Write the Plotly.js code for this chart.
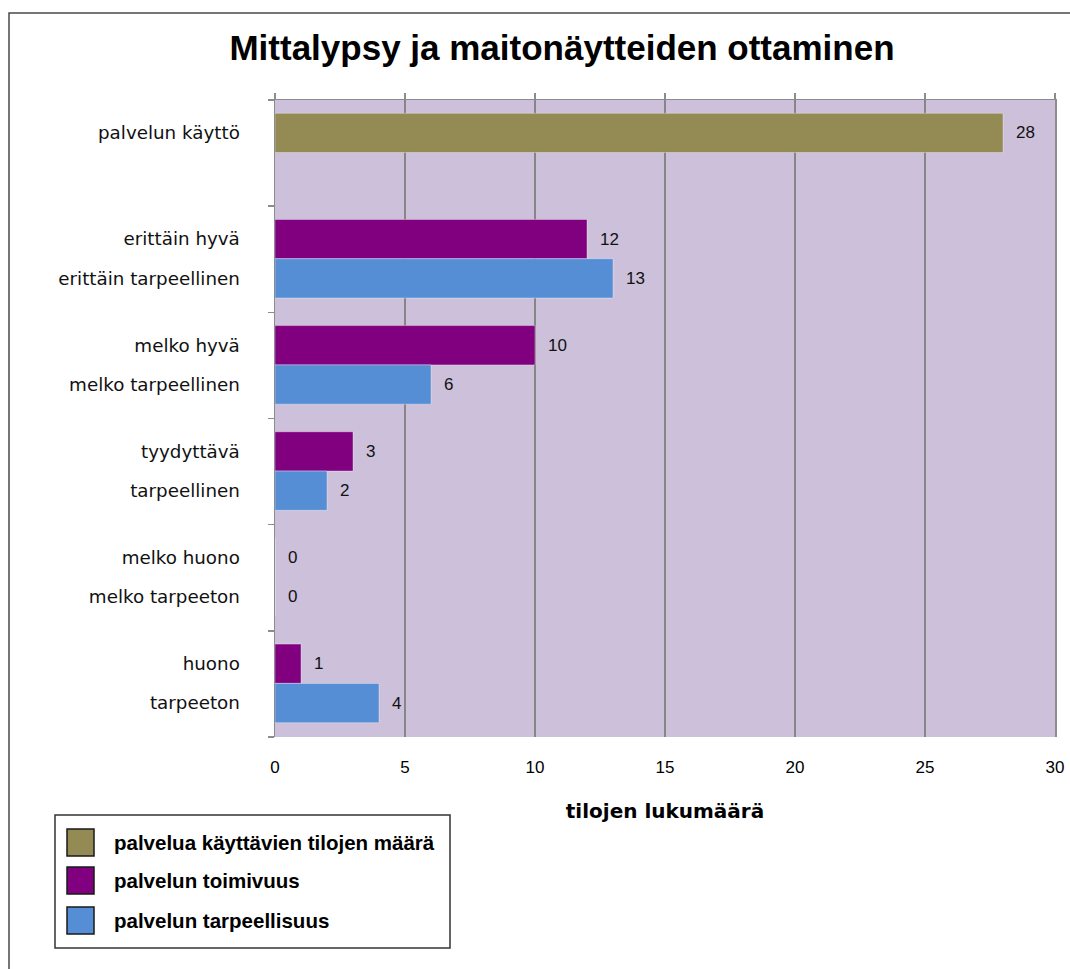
<!DOCTYPE html>
<html>
<head>
<meta charset="utf-8">
<script src="https://cdn.plot.ly/plotly-3.0.1.min.js"></script>
<style>html,body{margin:0;padding:0;background:#fff;}#chart{width:1070px;height:969px;}</style>
</head>
<body>
<div id="chart"></div>
<script>
// ---- data ----
const titleText = "Mittalypsy ja maitonäytteiden ottaminen";
const xAxisTitle = "tilojen lukumäärä";
const seriesNames = ["palvelua käyttävien tilojen määrä", "palvelun toimivuus", "palvelun tarpeellisuus"];
const usageLabels = ["palvelun käyttö"];
const usageValues = [28];
const functionLabels = ["erittäin hyvä", "melko hyvä", "tyydyttävä", "melko huono", "huono"];
const functionValues = [12, 10, 3, 0, 1];
const needLabels = ["erittäin tarpeellinen", "melko tarpeellinen", "tarpeellinen", "melko tarpeeton", "tarpeeton"];
const needValues = [13, 6, 2, 0, 4];
const xTicks = [0, 5, 10, 15, 20, 25, 30];

// ---- styling / layout ----
const colors = ["#948A54", "#800080", "#558ED5"];
const W = 1070, H = 969;
const M = {l: 275, r: 15, t: 100, b: 232};
const nGroups = 1 + functionLabels.length;
const off1 = 0.31, off2 = 0.68, bw = 0.37;

const usageY = usageLabels.map((_, i) => i + off1);
const funcY = functionLabels.map((_, i) => i + 1 + off1);
const needY = needLabels.map((_, i) => i + 1 + off2);

const baseFont = "Liberation Sans, Arial, sans-serif";
const labelFont = "DejaVu Sans, Verdana, sans-serif";

const traces = [
  {type: "bar", orientation: "h", name: seriesNames[0], x: usageValues, y: usageY, width: bw,
   marker: {color: colors[0], line: {color: "rgba(255,255,255,0.35)", width: 1}}, hoverinfo: "x+name"},
  {type: "bar", orientation: "h", name: seriesNames[1], x: functionValues, y: funcY, width: bw,
   marker: {color: colors[1], line: {color: "rgba(255,255,255,0.35)", width: 1}}, hoverinfo: "x+name"},
  {type: "bar", orientation: "h", name: seriesNames[2], x: needValues, y: needY, width: bw,
   marker: {color: colors[2], line: {color: "rgba(255,255,255,0.35)", width: 1}}, hoverinfo: "x+name"},
  {type: "scatter", x: [], y: [], xaxis: "x2", yaxis: "y2", showlegend: false, hoverinfo: "skip"}
];

const pw = W - M.l - M.r, ph = H - M.t - M.b;
const px = v => (v - M.l) / pw;
const py = v => (H - M.b - v) / ph;

const annotations = [];
const addVal = (xs, ys) => xs.forEach((v, i) => annotations.push({
  x: v, y: ys[i], xref: "x", yref: "y", text: String(v), showarrow: false,
  xanchor: "left", yanchor: "middle", xshift: 11,
  font: {family: baseFont, size: 17, color: "#111"}
}));
addVal(usageValues, usageY);
addVal(functionValues, funcY);
addVal(needValues, needY);

// custom legend
const shapes = [
  {type: "rect", xref: "paper", yref: "paper", x0: px(9), x1: px(1090), y0: py(13), y1: py(990),
   line: {color: "#4a4a4a", width: 1.5}, fillcolor: "rgba(0,0,0,0)", layer: "above"},
  {type: "rect", xref: "paper", yref: "paper", x0: px(55), x1: px(450), y0: py(815), y1: py(948),
   line: {color: "#333", width: 1.5}, fillcolor: "#fff", layer: "above"}
];
const legTop = [829, 867, 907];
seriesNames.forEach((n, i) => {
  shapes.push({type: "rect", xref: "paper", yref: "paper", x0: px(67), x1: px(94),
    y0: py(legTop[i]), y1: py(legTop[i] + 27), line: {color: "#1a1a1a", width: 1.5},
    fillcolor: colors[i], layer: "above"});
  annotations.push({xref: "paper", yref: "paper", x: px(112), y: py(legTop[i] + 13.5),
    xanchor: "left", yanchor: "middle", showarrow: false, text: "<b>" + n + "</b>",
    font: {family: baseFont, size: 20.5, color: "#000"}});
});

const layout = {
  width: W, height: H, margin: M,
  paper_bgcolor: "#fff", plot_bgcolor: "#CCC0DA",
  showlegend: false, bargap: 0,
  title: {text: "<b>" + titleText + "</b>", x: 562 / W, xanchor: "center", y: 1 - 48 / H, yanchor: "middle",
          font: {family: baseFont, size: 35, color: "#000"}},
  xaxis: {range: [0, 30], tickvals: xTicks, ticktext: xTicks.map(String), showgrid: true,
          gridcolor: "#868686", gridwidth: 1.5, zeroline: false, showline: false, ticks: "",
          ticklabelstandoff: 18, tickfont: {family: baseFont, size: 17, color: "#000"},
          title: {text: "<b>" + xAxisTitle + "</b>", standoff: 27, font: {family: labelFont, size: 20, color: "#000"}},
          fixedrange: true},
  xaxis2: {range: [0, 30], tickvals: xTicks, overlaying: "x", side: "top", anchor: "y", showgrid: false,
           zeroline: false, showline: true, linecolor: "#8c8c8c", linewidth: 1.5, ticks: "outside",
           ticklen: 6, tickcolor: "#8c8c8c", tickwidth: 1.5, showticklabels: false},
  yaxis: {range: [nGroups, 0], tickvals: usageY.concat(funcY, needY),
          ticktext: usageLabels.concat(functionLabels, needLabels), showgrid: false, zeroline: false,
          showline: true, mirror: true, linecolor: "#8c8c8c", linewidth: 1.5, ticks: "",
          ticklabelstandoff: 30, tickfont: {family: labelFont, size: 18.3, color: "#111"}},
  yaxis2: {range: [nGroups, 0], tickvals: Array.from({length: nGroups + 1}, (_, i) => i),
           overlaying: "y", side: "left", anchor: "x", showgrid: false, zeroline: false, showline: false,
           ticks: "outside", ticklen: 6, tickcolor: "#8c8c8c", tickwidth: 1.5, showticklabels: false},
  shapes: shapes, annotations: annotations
};

Plotly.newPlot("chart", traces, layout, {displayModeBar: false, staticPlot: true});
</script>
</body>
</html>
